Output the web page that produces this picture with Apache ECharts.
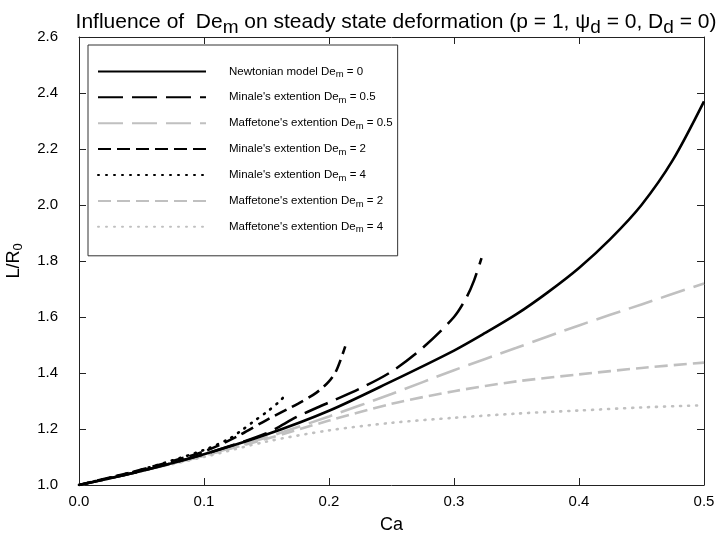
<!DOCTYPE html>
<html>
<head>
<meta charset="utf-8">
<script src="https://cdn.jsdelivr.net/npm/echarts@6/dist/echarts.min.js"></script>
<style>
  html, body { margin: 0; padding: 0; background: #fff; }
  #chart { width: 719px; height: 549px; }
</style>
</head>
<body>
<div id="chart"></div>
<script>
// Axis ticks
const xTicks = [0.0, 0.1, 0.2, 0.3, 0.4, 0.5];
const yTicks = [1.0, 1.2, 1.4, 1.6, 1.8, 2.0, 2.2, 2.4, 2.6];

// Newtonian model, De_m = 0
const caNewton = [0, 0.05, 0.1, 0.15, 0.2, 0.25, 0.3, 0.325, 0.35, 0.375, 0.4, 0.425, 0.45, 0.475, 0.5];
const lrNewton = [1.0, 1.05, 1.11, 1.18, 1.265, 1.37, 1.48, 1.543, 1.61, 1.688, 1.775, 1.878, 2.0, 2.16, 2.37];

// Minale's extension
const caMinale05 = [0, 0.05, 0.1, 0.15, 0.175, 0.2, 0.225, 0.25, 0.275, 0.3, 0.31, 0.316, 0.322];
const lrMinale05 = [1.0, 1.05, 1.11, 1.185, 1.245, 1.295, 1.345, 1.405, 1.49, 1.6, 1.67, 1.73, 1.81];
const caMinale2 = [0, 0.05, 0.1, 0.125, 0.15, 0.175, 0.19, 0.2, 0.206, 0.213];
const lrMinale2 = [1.0, 1.055, 1.12, 1.17, 1.232, 1.29, 1.33, 1.37, 1.41, 1.495];
const caMinale4 = [0, 0.05, 0.1, 0.12, 0.13, 0.14, 0.15, 0.16, 0.166];
const lrMinale4 = [1.0, 1.055, 1.125, 1.165, 1.195, 1.228, 1.26, 1.297, 1.325];

// Maffetone's extension
const caMaff = [0, 0.05, 0.1, 0.15, 0.2, 0.25, 0.3, 0.35, 0.4, 0.45, 0.5];
const lrMaff05 = [1.0, 1.05, 1.105, 1.17, 1.245, 1.325, 1.41, 1.49, 1.57, 1.645, 1.72];
const lrMaff2 = [1.0, 1.05, 1.105, 1.165, 1.23, 1.29, 1.335, 1.37, 1.395, 1.418, 1.437];
const lrMaff4 = [1.0, 1.05, 1.1, 1.155, 1.195, 1.222, 1.24, 1.255, 1.266, 1.277, 1.285];

const legendNames = [
  "Newtonian model De{s|m} = 0",
  "Minale's extention De{s|m} = 0.5",
  "Maffetone's extention De{s|m} = 0.5",
  "Minale's extention De{s|m} = 2",
  "Minale's extention De{s|m} = 4",
  "Maffetone's extention De{s|m} = 2",
  "Maffetone's extention De{s|m} = 4"
];

const pairs = (xs, ys) => xs.map((x, i) => [x, ys[i]]);

const BLACK = '#000000';
const GREY = '#c0c0c0';
const FONT = 'Liberation Sans, Arial, sans-serif';

function line(name, data, color, type, cap) {
  return {
    name: name,
    type: 'line',
    data: data,
    smooth: 0.3,
    symbol: 'none',
    showSymbol: false,
    silent: true,
    lineStyle: { color: color, width: 2.6, type: type, cap: cap || 'butt' },
    itemStyle: { color: color, opacity: 0 }
  };
}

const chart = echarts.init(document.getElementById('chart'), null, { renderer: 'canvas' });

const axisCommon = {
  type: 'value',
  axisLine: { show: true, onZero: false, lineStyle: { color: '#222', width: 1 } },
  axisTick: { show: true, inside: true, length: 7, lineStyle: { color: '#222', width: 1 } },
  splitLine: { show: false }
};

chart.setOption({
  animation: false,
  backgroundColor: '#ffffff',
  title: {
    text: 'Influence of  De{s|m} on steady state deformation (p = 1, \u03c8{s|d} = 0, D{s|d} = 0)',
    left: 391, top: 2, textAlign: 'center',
    textStyle: {
      fontFamily: FONT, fontSize: 21, fontWeight: 'normal', color: '#000',
      rich: { s: { fontFamily: FONT, fontSize: 19, color: '#000', padding: [11, 0, 0, 0] } }
    }
  },
  grid: { left: 79, right: 15, top: 37, bottom: 64, containLabel: false, outerBoundsMode: 'none' },
  legend: {
    orient: 'vertical',
    left: 88, top: 45,
    padding: [20, 5, 21, 9],
    itemWidth: 108, itemHeight: 16, itemGap: 11.5,
    itemStyle: { opacity: 0 },
    backgroundColor: '#ffffff',
    borderColor: '#333', borderWidth: 1,
    selectedMode: false,
    data: legendNames,
    formatter: n => n,
    textStyle: {
      fontFamily: FONT, fontSize: 11.5, color: '#000', padding: [0, 0, 0, 18],
      rich: { s: { fontFamily: FONT, fontSize: 9.5, color: '#000', padding: [6, 0, 0, 0] } }
    }
  },
  xAxis: [
    Object.assign({}, axisCommon, {
      position: 'bottom', min: 0, max: 0.5, interval: 0.1,
      name: 'Ca', nameLocation: 'middle', nameGap: 31,
      nameTextStyle: { fontFamily: FONT, fontSize: 18, color: '#000' },
      axisLabel: { fontFamily: FONT, fontSize: 15, color: '#000', margin: 9,
        formatter: v => v.toFixed(1) }
    }),
    Object.assign({}, axisCommon, {
      position: 'top', min: 0, max: 0.5, interval: 0.1,
      axisLabel: { show: false }
    })
  ],
  yAxis: [
    Object.assign({}, axisCommon, {
      position: 'left', min: 1.0, max: 2.6, interval: 0.2,
      name: 'L/R{s|0}', nameLocation: 'middle', nameGap: 54, nameRotate: 90,
      nameTextStyle: { fontFamily: FONT, fontSize: 18, color: '#000',
        rich: { s: { fontFamily: FONT, fontSize: 13, color: '#000', padding: [9, 0, 0, 0] } } },
      axisLabel: { fontFamily: FONT, fontSize: 15, color: '#000', margin: 21,
        formatter: v => v.toFixed(1) }
    }),
    Object.assign({}, axisCommon, {
      position: 'right', min: 1.0, max: 2.6, interval: 0.2,
      axisLabel: { show: false }
    })
  ],
  series: [
    line(legendNames[6], pairs(caMaff, lrMaff4), GREY, [1, 7], 'round'),
    line(legendNames[5], pairs(caMaff, lrMaff2), GREY, [13, 6]),
    line(legendNames[2], pairs(caMaff, lrMaff05), GREY, [25, 9]),
    line(legendNames[4], pairs(caMinale4, lrMinale4), BLACK, [1, 7], 'round'),
    line(legendNames[3], pairs(caMinale2, lrMinale2), BLACK, [13, 6]),
    line(legendNames[1], pairs(caMinale05, lrMinale05), BLACK, [25, 9]),
    line(legendNames[0], pairs(caNewton, lrNewton), BLACK, 'solid')
  ]
});
</script>
</body>
</html>
